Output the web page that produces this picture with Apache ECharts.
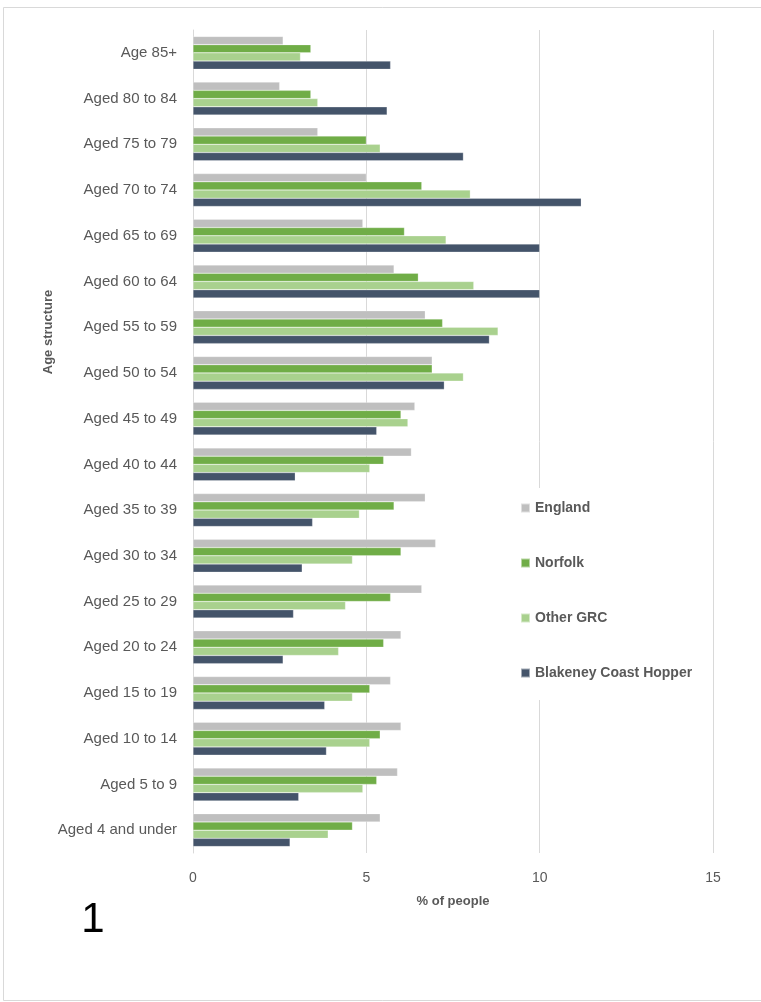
<!DOCTYPE html>
<html>
<head>
<meta charset="utf-8">
<script src="https://cdn.jsdelivr.net/npm/echarts@6/dist/echarts.min.js"></script>
<style>
  html, body { margin: 0; padding: 0; background: #fff; }
  #chart { width: 761px; height: 1002px; }
</style>
</head>
<body>
<div id="chart"></div>
<script>
// categories, top to bottom as in the picture
var ageGroups = [
  'Age 85+', 'Aged 80 to 84', 'Aged 75 to 79', 'Aged 70 to 74', 'Aged 65 to 69',
  'Aged 60 to 64', 'Aged 55 to 59', 'Aged 50 to 54', 'Aged 45 to 49', 'Aged 40 to 44',
  'Aged 35 to 39', 'Aged 30 to 34', 'Aged 25 to 29', 'Aged 20 to 24', 'Aged 15 to 19',
  'Aged 10 to 14', 'Aged 5 to 9', 'Aged 4 and under'
];
var englandData   = [2.6, 2.5, 3.6, 5.0, 4.9, 5.8, 6.7, 6.9, 6.4, 6.3, 6.7, 7.0, 6.6, 6.0, 5.7, 6.0, 5.9, 5.4];
var norfolkData   = [3.4, 3.4, 5.0, 6.6, 6.1, 6.5, 7.2, 6.9, 6.0, 5.5, 5.8, 6.0, 5.7, 5.5, 5.1, 5.4, 5.3, 4.6];
var otherGrcData  = [3.1, 3.6, 5.4, 8.0, 7.3, 8.1, 8.8, 7.8, 6.2, 5.1, 4.8, 4.6, 4.4, 4.2, 4.6, 5.1, 4.9, 3.9];
var blakeneyData  = [5.7, 5.6, 7.8, 11.2, 10.0, 10.0, 8.55, 7.25, 5.3, 2.95, 3.45, 3.15, 2.9, 2.6, 3.8, 3.85, 3.05, 2.8];
var xTicks = [0, 5, 10, 15];

var font = 'Liberation Sans';
var textGrey = '#595959';

var myChart = echarts.init(document.getElementById('chart'));

function barSeries(name, color, data) {
  return {
    name: name,
    type: 'bar',
    barGap: '0%',
    barCategoryGap: '28%',
    itemStyle: { color: color, borderColor: 'rgba(255,255,255,0.5)', borderWidth: 0.5 },
    data: data
  };
}

var option = {
  animation: false,
  backgroundColor: '#fff',
  textStyle: { fontFamily: font },
  grid: { left: 193, right: 48, top: 30, bottom: 149 },
  legend: {
    orient: 'vertical',
    left: 510,
    top: 488,
    itemWidth: 9,
    itemHeight: 9,
    itemGap: 41,
    icon: 'rect',
    padding: [13, 12, 20, 10],
    backgroundColor: '#fff',
    textStyle: { color: textGrey, fontSize: 14, fontWeight: 'bold', fontFamily: font },
    data: ['England', 'Norfolk', 'Other GRC', 'Blakeney Coast Hopper']
  },
  xAxis: {
    type: 'value',
    min: xTicks[0],
    max: xTicks[xTicks.length - 1],
    interval: 5,
    name: '% of people',
    nameLocation: 'middle',
    nameGap: 42,
    nameTextStyle: { color: textGrey, fontSize: 13, fontWeight: 'bold' },
    axisLine: { show: false },
    axisTick: { show: false },
    axisLabel: { color: textGrey, fontSize: 14, margin: 18 },
    splitLine: { lineStyle: { color: '#d9d9d9', width: 1 } }
  },
  yAxis: {
    type: 'category',
    inverse: true,
    data: ageGroups,
    axisLine: { show: true, lineStyle: { color: '#d9d9d9', width: 1 } },
    axisTick: { show: false },
    axisLabel: { color: textGrey, fontSize: 15, margin: 16 }
  },
  graphic: [
    {
      type: 'rect',
      shape: { x: 3.5, y: 7.5, width: 760, height: 993 },
      style: { fill: 'none', stroke: '#d9d9d9', lineWidth: 1 },
      z: -1
    },
    {
      type: 'text',
      x: 48,
      y: 332,
      rotation: Math.PI / 2,
      style: {
        text: 'Age structure',
        font: 'bold 13px ' + font,
        fill: textGrey,
        align: 'center',
        verticalAlign: 'middle'
      }
    },
    {
      type: 'text',
      x: 93,
      y: 920,
      style: {
        text: '1',
        font: '42px ' + font,
        fill: '#000',
        align: 'center',
        verticalAlign: 'middle'
      }
    }
  ],
  series: [
    barSeries('England', '#bfbfbf', englandData),
    barSeries('Norfolk', '#70ad47', norfolkData),
    barSeries('Other GRC', '#a9d18e', otherGrcData),
    barSeries('Blakeney Coast Hopper', '#44546a', blakeneyData)
  ]
};

myChart.setOption(option);
window.onresize = function () { myChart.resize(); };
</script>
</body>
</html>
